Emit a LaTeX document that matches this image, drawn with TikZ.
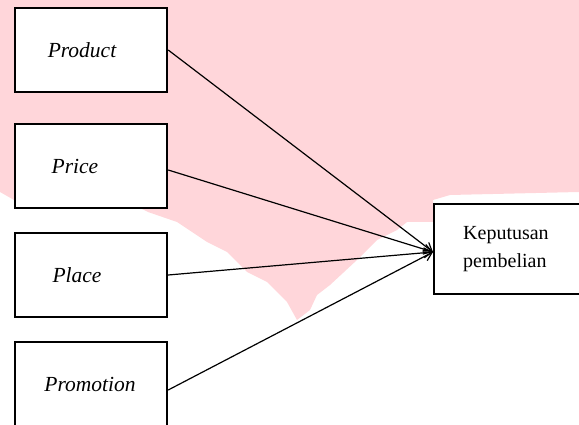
\documentclass[tikz,border=0pt]{standalone}
\usepackage{fontspec}
\setmainfont{Liberation Serif}
\usetikzlibrary{arrows.meta}
\definecolor{wmpink}{RGB}{255,214,218}
\begin{document}
\begin{tikzpicture}[x=1pt,y=-1pt,
  box/.style={draw=black,fill=white,line width=2.4pt,rectangle,minimum width=152pt,minimum height=84pt,inner sep=0pt,font=\fontsize{21.5}{24}\selectfont\itshape},
  conn/.style={line width=1.2pt,-{Straight Barb[length=8pt,width=10pt,line width=1.2pt]}}]
\useasboundingbox (0,0) rectangle (579,425);
% pink background area
\fill[wmpink] (0,0) -- (579,0) -- (579,192) -- (450,195) -- (433,200) -- (433,222) -- (407,222)
  -- (397,230) -- (377,240) -- (357,260) -- (330,285) -- (317,295) -- (310,310) -- (297,320)
  -- (287,302) -- (267,282) -- (247,272) -- (227,252) -- (207,242) -- (177,222) -- (148,212)
  -- (140,208) -- (14,200) -- (0,192) -- cycle;
\node[box] (prod) at (91,50) {\hspace*{-18pt}Product};
\node[box] (price) at (91,166) {\hspace*{-32pt}Price};
\node[box] (place) at (91,275) {\hspace*{-28pt}Place};
\node[box] (promo) at (91,384) {\hspace*{-2pt}Promotion};
\node[draw=black,fill=white,line width=2.4pt,rectangle,anchor=west,minimum height=90pt,
  text width=160pt,inner xsep=29pt,align=left,font=\fontsize{20}{28}\selectfont] (kp) at (433,249)
  {Keputusan\\pembelian};
\coordinate (tip) at ([yshift=-3pt]kp.west);
\draw[conn] (prod.east) -- (tip);
\draw[conn] ([yshift=-4pt]price.east) -- (tip);
\draw[conn] (place.east) -- (tip);
\draw[conn] ([yshift=-6pt]promo.east) -- (tip);
\end{tikzpicture}
\end{document}
